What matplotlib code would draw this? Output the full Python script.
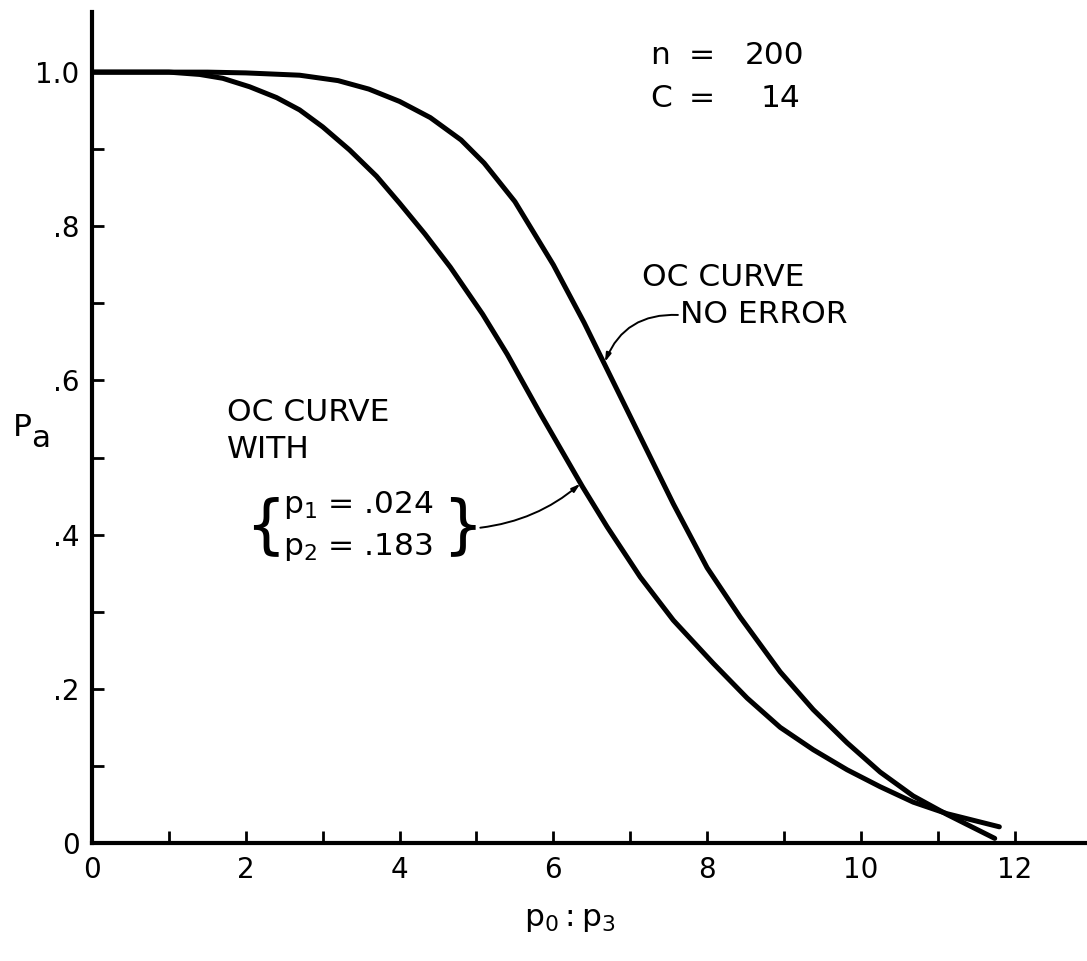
import matplotlib
matplotlib.use("Agg")
import matplotlib.pyplot as plt
from matplotlib.ticker import MultipleLocator, FixedLocator

# ---- data ----
x_no_error = [0, 1.0, 1.5, 2.0, 2.7, 3.2, 3.6, 4.0, 4.4, 4.8, 5.1, 5.5, 6.0, 6.4,
              6.74, 7.13, 7.56, 8.0, 8.43, 8.95, 9.38, 9.82, 10.25, 10.68, 11.12,
              11.74]
y_no_error = [1.0, 1.0, 1.0, 0.999, 0.996, 0.989, 0.978, 0.962, 0.941, 0.912,
              0.882, 0.832, 0.750, 0.675, 0.606, 0.527, 0.440, 0.357, 0.293,
              0.222, 0.173, 0.130, 0.092, 0.061, 0.037, 0.006]

x_with_error = [0, 1.0, 1.4, 1.7, 2.05, 2.4, 2.7, 3.0, 3.35, 3.7, 4.0, 4.33, 4.66,
                5.08, 5.4, 5.83, 6.05, 6.38, 6.7, 7.13, 7.56, 8.08, 8.52, 8.95,
                9.38, 9.82, 10.25, 10.68, 11.12, 11.8]
y_with_error = [1.0, 1.0, 0.997, 0.992, 0.981, 0.967, 0.951, 0.929, 0.899, 0.865,
                0.830, 0.790, 0.747, 0.686, 0.634, 0.557, 0.519, 0.462, 0.410,
                0.345, 0.289, 0.233, 0.188, 0.150, 0.121, 0.095, 0.073, 0.053,
                0.038, 0.021]

x_ticks = [0, 2, 4, 6, 8, 10, 12]
x_ticklabels = ["0", "2", "4", "6", "8", "10", "12"]
y_ticks = [0, 0.2, 0.4, 0.6, 0.8, 1.0]
y_ticklabels = ["0", ".2", ".4", ".6", ".8", "1.0"]

FONT = "DejaVu Sans"
plt.rcParams["font.family"] = [FONT]
plt.rcParams["mathtext.fontset"] = "custom"
plt.rcParams["mathtext.rm"] = FONT

fig = plt.figure(figsize=(10.87, 9.61), dpi=100)
ax = fig.add_axes([92 / 1087, 118 / 961, 1 - 92 / 1087, (843 - 12) / 961])

lw = 3.6
ax.plot(x_no_error, y_no_error, color="black", lw=lw, solid_capstyle="round",
        solid_joinstyle="round")
ax.plot(x_with_error, y_with_error, color="black", lw=lw, solid_capstyle="round",
        solid_joinstyle="round")

ax.set_xlim(0, 12.94)
ax.set_ylim(0, 1.078)

for s in ("top", "right"):
    ax.spines[s].set_visible(False)
for s in ("left", "bottom"):
    ax.spines[s].set_linewidth(3.0)

ax.xaxis.set_major_locator(FixedLocator(x_ticks))
ax.set_xticklabels(x_ticklabels)
ax.xaxis.set_minor_locator(MultipleLocator(1))
ax.yaxis.set_major_locator(FixedLocator(y_ticks))
ax.set_yticklabels(y_ticklabels)
ax.yaxis.set_minor_locator(MultipleLocator(0.1))

ax.tick_params(which="both", direction="in", length=8.5, width=2.0, color="black")
ax.tick_params(axis="x", which="major", labelsize=20, pad=9)
ax.tick_params(axis="y", which="major", labelsize=20, pad=9)

fs = 22.5
# axis labels
ax.text(-0.08, 0.50, "P", transform=ax.transAxes, fontsize=fs, ha="left", va="center")
ax.text(-0.061, 0.487, "a", transform=ax.transAxes, fontsize=fs, ha="left", va="center")
ax.set_xlabel(r"$\mathregular{p_0 : p_3}$", fontsize=fs)
ax.xaxis.set_label_coords(0.48, -0.075)

# parameters
ax.text(7.26, 1.022, "n", fontsize=fs, ha="left", va="center")
ax.text(7.93, 1.022, "=", fontsize=fs, ha="center", va="center")
ax.text(9.27, 1.022, "200", fontsize=fs, ha="right", va="center")
ax.text(7.26, 0.966, "C", fontsize=fs, ha="left", va="center")
ax.text(7.93, 0.966, "=", fontsize=fs, ha="center", va="center")
ax.text(9.21, 0.966, "14", fontsize=fs, ha="right", va="center")

# no-error label
ax.text(7.15, 0.734, "OC CURVE", fontsize=fs, ha="left", va="center")
ax.text(7.65, 0.685, "NO ERROR", fontsize=fs, ha="left", va="center")
ax.annotate("", xy=(6.67, 0.624), xytext=(7.62, 0.685),
            arrowprops=dict(arrowstyle="-|>,head_length=0.5,head_width=0.15",
                            color="black", lw=1.4, shrinkA=0, shrinkB=0,
                            connectionstyle="arc3,rad=0.35"))

# with-error label
ax.text(1.76, 0.559, "OC CURVE", fontsize=fs, ha="left", va="center")
ax.text(1.76, 0.510, "WITH", fontsize=fs, ha="left", va="center")
ax.text(2.25, 0.41, "{", fontsize=46, ha="center", va="center")
ax.text(4.82, 0.41, "}", fontsize=46, ha="center", va="center")
ax.text(2.48, 0.438, r"$\mathregular{p_1}$ = .024", fontsize=fs, ha="left", va="center")
ax.text(2.48, 0.384, r"$\mathregular{p_2}$ = .183", fontsize=fs, ha="left", va="center")
ax.annotate("", xy=(6.35, 0.466), xytext=(5.05, 0.409),
            arrowprops=dict(arrowstyle="-|>,head_length=0.5,head_width=0.15",
                            color="black", lw=1.4, shrinkA=0, shrinkB=0,
                            connectionstyle="arc3,rad=0.15"))

fig.savefig("out.png", dpi=100)
